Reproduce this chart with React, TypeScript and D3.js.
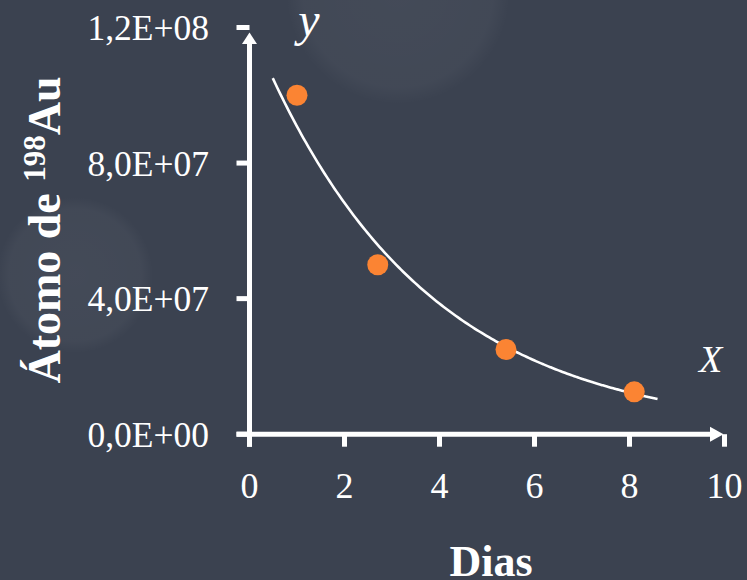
import React from "react";
import * as d3 from "d3";

const days = [1, 2.7, 5.4, 8.1];
const atoms = [1.0e8, 5.0e7, 2.5e7, 1.25e7];
const xTicks = [0, 2, 4, 6, 8, 10];
const yTicks = [0, 4e7, 8e7, 1.2e8];
const yTickLabels = ["0,0E+00", "4,0E+07", "8,0E+07", "1,2E+08"];
const trendRange = [0.49, 8.63];

const W = 747;
const H = 580;

export default function App() {
  const x = d3.scaleLinear().domain([0, 10]).range([249.5, 724.5]);
  const y = d3.scaleLinear().domain([0, 1.2e8]).range([434.2, 27.5]);

  // Exponential trendline (least squares on ln y)
  const ln = atoms.map((v) => Math.log(v));
  const mx = d3.mean(days)!;
  const my = d3.mean(ln)!;
  let sxy = 0, sxx = 0;
  days.forEach((d, i) => {
    sxy += (d - mx) * (ln[i] - my);
    sxx += (d - mx) * (d - mx);
  });
  const b = sxy / sxx;
  const a = my - b * mx;
  const samples = d3.range(trendRange[0], trendRange[1] + 1e-9, 0.05);
  const line = d3
    .line<number>()
    .x((t) => x(t))
    .y((t) => y(Math.exp(a + b * t)))
    .curve(d3.curveMonotoneX);

  const axisColor = "#ffffff";
  const x0 = x(0);
  const y0 = y(0);
  const serif = "'Liberation Serif', 'Times New Roman', serif";

  return (
    <svg
      width={W}
      height={H}
      style={{ position: "absolute", left: 0, top: 0, display: "block" }}
    >
      <defs>
        <radialGradient id="bok" cx="50%" cy="50%" r="50%">
          <stop offset="0%" stopColor="#ffffff" stopOpacity={0.045} />
          <stop offset="85%" stopColor="#ffffff" stopOpacity={0.035} />
          <stop offset="100%" stopColor="#ffffff" stopOpacity={0} />
        </radialGradient>
      </defs>
      <rect x={0} y={0} width={W} height={H} fill="#3b4250" />
      <circle cx={398} cy={-8} r={112} fill="url(#bok)" />
      <circle cx={75} cy={275} r={78} fill="url(#bok)" />

      {/* axes */}
      <g stroke={axisColor} strokeWidth={5} fill="none">
        <line x1={x0} y1={y0 + 12.5} x2={x0} y2={40} />
        <line x1={x0 - 13} y1={y0} x2={x(10) - 12} y2={y0} />
        {yTicks.map((t) => (
          <line key={"yt" + t} x1={x0 - 13} x2={x0} y1={y(t)} y2={y(t)} />
        ))}
        {xTicks.map((t) => (
          <line key={"xt" + t} x1={x(t)} x2={x(t)} y1={y0} y2={y0 + 12.5} />
        ))}
      </g>
      <path
        d={`M${x0 - 7.5},${y(1.2e8) + 16.5} L${x0},${y(1.2e8) + 5} L${x0 + 7.5},${y(1.2e8) + 16.5} Z`}
        fill={axisColor}
      />
      <path
        d={`M${x(10) - 14.5},${y0 - 7.5} L${x(10) - 1},${y0} L${x(10) - 14.5},${y0 + 7.5} Z`}
        fill={axisColor}
      />

      {/* tick labels */}
      <g fill="#ffffff" fontFamily={serif}>
        {yTicks.map((t, i) => (
          <text key={"yl" + t} x={209} y={y(t) + 12.5} textAnchor="end" fontSize={35.5}>
            {yTickLabels[i]}
          </text>
        ))}
        {xTicks.map((t) => (
          <text key={"xl" + t} x={x(t)} y={498} textAnchor="middle" fontSize={36}>
            {t}
          </text>
        ))}
      </g>

      {/* trendline */}
      <path d={line(samples) || ""} fill="none" stroke="#ffffff" strokeWidth={2.6} />

      {/* points */}
      {days.map((d, i) => (
        <circle key={"p" + i} cx={x(d)} cy={y(atoms[i])} r={10.5} fill="#fb8433" />
      ))}

      {/* axis letters */}
      <text x={309} y={36} fill="#ffffff" fontFamily={serif} fontStyle="italic" fontSize={48} textAnchor="middle">
        y
      </text>
      <text x={699} y={372} fill="#ffffff" fontFamily={serif} fontStyle="italic" fontSize={38}>
        X
      </text>

      {/* titles */}
      <text x={491} y={576} fill="#ffffff" fontFamily={serif} fontWeight="bold" fontSize={44} textAnchor="middle">
        Dias
      </text>
      <text
        transform="translate(60,230) rotate(-90)"
        fill="#ffffff"
        fontFamily={serif}
        fontWeight="bold"
        fontSize={46}
        textAnchor="middle"
      >
        Átomo de <tspan fontSize={31} dy={-15}>198</tspan>
        <tspan dy={15}>Au</tspan>
      </text>
    </svg>
  );
}
